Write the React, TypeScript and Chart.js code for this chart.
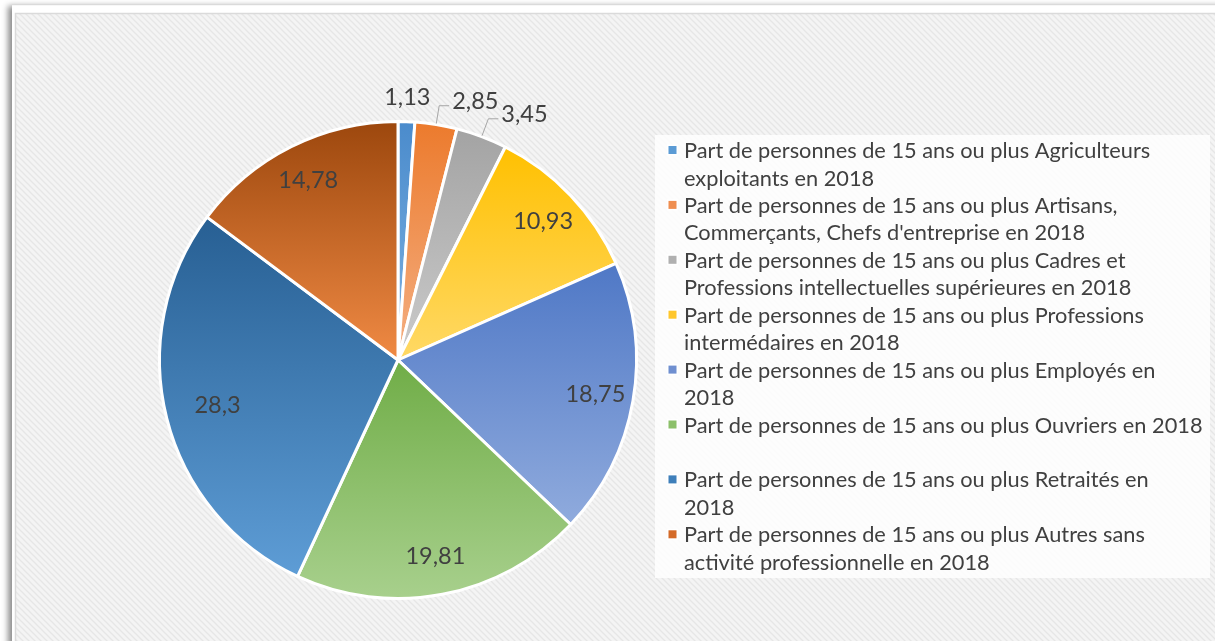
import React, { useEffect, useRef } from "react";
import { Chart, registerables } from "chart.js";

Chart.register(...registerables);

// ---- data ----
const categories: string[][] = [
  ["Part de personnes de 15 ans ou plus Agriculteurs", "exploitants en 2018"],
  ["Part de personnes de 15 ans ou plus Artisans,", "Commerçants, Chefs d'entreprise en 2018"],
  ["Part de personnes de 15 ans ou plus Cadres et", "Professions intellectuelles supérieures en 2018"],
  ["Part de personnes de 15 ans ou plus Professions", "intermédaires en 2018"],
  ["Part de personnes de 15 ans ou plus Employés en", "2018"],
  ["Part de personnes de 15 ans ou plus Ouvriers en 2018", ""],
  ["Part de personnes de 15 ans ou plus Retraités en", "2018"],
  ["Part de personnes de 15 ans ou plus Autres sans", "activité professionnelle en 2018"],
];
const values: number[] = [1.13, 2.85, 3.45, 10.93, 18.75, 19.81, 28.3, 14.78];
const valueLabels: string[] = ["1,13", "2,85", "3,45", "10,93", "18,75", "19,81", "28,3", "14,78"];

// ---- styles ----
const topColors = ["#4a8bcc", "#ec7a2c", "#a3a3a3", "#ffc000", "#4f78c6", "#70ad47", "#275f93", "#9c470d"];
const bottomColors = ["#7fb2e2", "#f4b084", "#cbcbcb", "#ffd966", "#90abdd", "#a8d08d", "#5e9dd6", "#f08a44"];
const markerColors = ["#5b9bd5", "#ef8e50", "#b0b0b0", "#ffc72c", "#6f8fd0", "#8cc06a", "#3e7fba", "#d46a28"];

const W = 1215;
const H = 641;
const FONT_FAMILY = "Lato, 'Open Sans', sans-serif";
const TEXT_COLOR = "#404040";

function makeHatch(ctx: CanvasRenderingContext2D): CanvasPattern | string {
  const c = document.createElement("canvas");
  c.width = 6;
  c.height = 6;
  const p = c.getContext("2d");
  if (!p) return "#f2f2f2";
  p.fillStyle = "#f4f4f4";
  p.fillRect(0, 0, 6, 6);
  p.strokeStyle = "#e6e6e6";
  p.lineWidth = 1.3;
  for (let k = -1; k <= 1; k++) {
    p.beginPath();
    p.moveTo(k * 6 - 1, -1);
    p.lineTo(k * 6 + 7, 7);
    p.stroke();
  }
  return ctx.createPattern(c, "repeat") || "#f2f2f2";
}

function sliceGradient(context: any) {
  const i = context.dataIndex;
  const chart = context.chart;
  const area = chart.chartArea;
  if (!area || i === undefined) return topColors[i ?? 0];
  const total = values.reduce((a, b) => a + b, 0);
  let cum = 0;
  for (let j = 0; j < i; j++) cum += values[j];
  const a0 = -Math.PI / 2 + (cum / total) * Math.PI * 2;
  const a1 = a0 + (values[i] / total) * Math.PI * 2;
  const cy = (area.top + area.bottom) / 2;
  const r = Math.min(area.right - area.left, area.bottom - area.top) / 2;
  const ys = [cy, cy + r * Math.sin(a0), cy + r * Math.sin(a1)];
  for (const a of [-Math.PI / 2, Math.PI / 2, (3 * Math.PI) / 2]) {
    if (a >= a0 && a <= a1) ys.push(cy + r * Math.sin(a));
  }
  const y0 = Math.min(...ys);
  const y1 = Math.max(...ys);
  const g = chart.ctx.createLinearGradient(0, y0, 0, Math.max(y1, y0 + 1));
  g.addColorStop(0, topColors[i]);
  g.addColorStop(1, bottomColors[i]);
  return g;
}

let fontPx = 18.5;

const backgroundPlugin = {
  id: "bgFrame",
  beforeDraw(chart: any) {
    const ctx: CanvasRenderingContext2D = chart.ctx;
    ctx.save();
    ctx.fillStyle = "#ffffff";
    ctx.fillRect(0, 0, W, H);
    // frame with left shadow
    ctx.shadowColor = "rgba(0,0,0,0.45)";
    ctx.shadowBlur = 6;
    ctx.shadowOffsetX = -4;
    ctx.shadowOffsetY = 0;
    ctx.fillStyle = "#ffffff";
    ctx.fillRect(12, 6, W, H);
    ctx.shadowColor = "transparent";
    ctx.shadowBlur = 0;
    ctx.shadowOffsetX = 0;
    ctx.fillStyle = "#f7f7f7";
    ctx.fillRect(12, 5, W, 1);
    // hatched plot area
    ctx.fillStyle = makeHatch(ctx);
    ctx.fillRect(15, 13, W, H);
    ctx.strokeStyle = "#dadada";
    ctx.lineWidth = 1.5;
    ctx.strokeRect(15.5, 13.5, W + 10, H + 10);

    // fit font size so that the widest single legend line matches reference width
    ctx.font = `100px ${FONT_FAMILY}`;
    const w100 = ctx.measureText(categories[5][0]).width;
    if (w100 > 0) fontPx = (100 * 519) / w100;

    // legend box
    ctx.fillStyle = "rgba(255,255,255,0.82)";
    ctx.fillRect(655, 135, 555, 443);
    const lineH = 27.5;
    const itemH = 54.9;
    ctx.font = `${fontPx}px ${FONT_FAMILY}`;
    ctx.textBaseline = "middle";
    ctx.textAlign = "left";
    categories.forEach((lines, i) => {
      const y = 150 + i * itemH;
      ctx.fillStyle = "#ffffff";
      ctx.fillRect(667, y - 5.5, 11, 11);
      ctx.fillStyle = markerColors[i];
      ctx.fillRect(668.5, y - 4, 8, 8);
      ctx.fillStyle = TEXT_COLOR;
      lines.forEach((ln, k) => {
        if (ln) ctx.fillText(ln, 684, y + k * lineH + 1);
      });
    });
    ctx.restore();
  },
};

const labelPlugin = {
  id: "sliceLabels",
  afterDatasetsDraw(chart: any) {
    const ctx: CanvasRenderingContext2D = chart.ctx;
    const meta = chart.getDatasetMeta(0);
    ctx.save();
    ctx.font = `${fontPx * 1.08}px ${FONT_FAMILY}`;
    ctx.fillStyle = TEXT_COLOR;
    ctx.textBaseline = "middle";
    meta.data.forEach((arc: any, i: number) => {
      const { x, y, startAngle, endAngle, outerRadius } = arc.getProps(
        ["x", "y", "startAngle", "endAngle", "outerRadius"],
        true
      );
      const mid = (startAngle + endAngle) / 2;
      const cos = Math.cos(mid);
      const sin = Math.sin(mid);
      const v = values[i];
      if (v >= 5) {
        ctx.textAlign = "center";
        const k = v > 25 ? 0.78 : 0.84;
        ctx.fillText(valueLabels[i], x + cos * outerRadius * k, y + sin * outerRadius * k);
      } else if (v < 2) {
        ctx.textAlign = "center";
        ctx.fillText(valueLabels[i], x + cos * outerRadius * 1.1, y + sin * outerRadius * 1.1);
      } else {
        const ex = x + cos * (outerRadius + 1);
        const ey = y + sin * (outerRadius + 1);
        const ax = x + cos * outerRadius * 1.08;
        const ay = y + sin * outerRadius * 1.08;
        ctx.strokeStyle = "#a6a6a6";
        ctx.lineWidth = 1;
        ctx.beginPath();
        ctx.moveTo(ex, ey);
        ctx.lineTo(ax, ay);
        ctx.lineTo(ax + 10, ay);
        ctx.stroke();
        ctx.textAlign = "left";
        ctx.fillText(valueLabels[i], ax + 13, ay - 4);
      }
    });
    ctx.restore();
  },
};

export default function App() {
  const ref = useRef<HTMLCanvasElement | null>(null);
  useEffect(() => {
    if (!ref.current) return;
    const chart = new Chart(ref.current, {
      type: "pie",
      data: {
        labels: categories.map((l) => l.filter(Boolean).join(" ")),
        datasets: [
          {
            data: values,
            backgroundColor: sliceGradient as any,
            borderColor: "#ffffff",
            borderWidth: 3,
          },
        ],
      },
      options: {
        responsive: false,
        animation: false,
        devicePixelRatio: 1,
        layout: { padding: { left: 158, right: 577, top: 120, bottom: 41 } },
        plugins: {
          legend: { display: false },
          tooltip: { enabled: false },
          title: { display: false },
        },
      },
      plugins: [backgroundPlugin, labelPlugin],
    });
    return () => chart.destroy();
  }, []);
  return (
    <div style={{ position: "absolute", left: 0, top: 0, width: W, height: H }}>
      <canvas ref={ref} width={W} height={H} style={{ display: "block" }} />
    </div>
  );
}
